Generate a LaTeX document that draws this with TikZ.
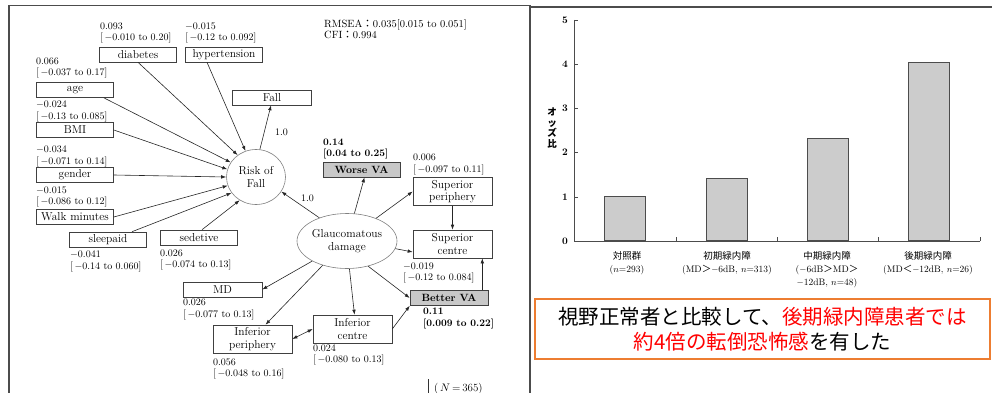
\documentclass[tikz,border=0pt]{standalone}
\usepackage{fontspec}
\newfontfamily\cjk{Noto Sans CJK JP}
\usetikzlibrary{arrows.meta,shapes.geometric,calc}
\definecolor{boxgray}{HTML}{C8C8C8}
\definecolor{bargray}{HTML}{CCCCCC}
\definecolor{frameorange}{HTML}{ED7D31}
\definecolor{jred}{HTML}{FF0000}
\tikzset{
  box/.style={draw=black!75, fill=white, line width=0.6pt, minimum width=77pt, minimum height=15pt, inner sep=0pt, font=\fontsize{11.5}{12}\selectfont},
  tbox/.style={box, minimum width=79pt, minimum height=28pt, align=center, font=\fontsize{11.5}{12.5}\selectfont},
  gbox/.style={box, fill=boxgray, font=\fontsize{10.5}{12}\selectfont\bfseries},
  lat/.style={ellipse, draw=black!50, fill=white, line width=0.6pt, inner sep=0pt, align=center, font=\fontsize{11.5}{12.5}\selectfont},
  lbl/.style={anchor=base west, inner sep=0pt, align=left, font=\fontsize{10}{11.5}\selectfont},
  blbl/.style={lbl, font=\fontsize{10}{11.5}\selectfont\bfseries},
  arr/.style={-{Latex[length=5pt,width=3.6pt]}, line width=0.6pt, draw=black!85},
  darr/.style={{Latex[length=5pt,width=3.6pt]}-{Latex[length=5pt,width=3.6pt]}, line width=0.6pt, draw=black!85},
  frame/.style={draw=black!70, line width=1.2pt},
  axis/.style={draw=black!70, line width=0.6pt},
  bar/.style={draw=black!70, fill=bargray, line width=0.7pt},
  ticklbl/.style={anchor=east, inner sep=0pt, font=\fontsize{10}{12}\selectfont\bfseries},
  catlbl/.style={anchor=north, inner sep=0pt, align=center, font=\fontsize{9.5}{13}\selectfont},
}
\begin{document}
\begin{tikzpicture}[x=1pt,y=-1pt]
\useasboundingbox (0,0) rectangle (992,393);
% frames
\draw[frame] (9,393) -- (9,5.5) -- (530,5.5) -- (530,393);
\draw[frame] (530,7) -- (992,7);

% ---------- left diagram ----------
\node[box] (diab) at (138,54.5) {diabetes};
\node[box] (hyp) at (224,54.5) {hypertension};
\node[box] (age) at (75,90) {age};
\node[box] (bmi) at (75,130) {BMI};
\node[box] (gender) at (75,175) {gender};
\node[box] (walk) at (75,217) {Walk minutes};
\node[box] (sleep) at (108,239.5) {sleepaid};
\node[box] (sed) at (199,237.5) {sedetive};
\node[box, minimum width=79pt] (fall) at (272,97.5) {Fall};
\node[lat, minimum width=59pt, minimum height=55pt] (risk) at (256,177) {Risk of\\Fall};
\node[lat, minimum width=100pt, minimum height=55pt] (glau) at (347,241) {Glaucomatous\\damage};
\node[gbox] (worse) at (361.5,169.5) {Worse VA};
\node[tbox] (supp) at (452.5,191.5) {Superior\\periphery};
\node[tbox] (supc) at (452.5,244) {Superior\\centre};
\node[gbox, minimum width=78pt] (better) at (449,298) {Better VA};
\node[box, minimum width=79pt] (md) at (222.5,289.5) {MD};
\node[tbox] (infp) at (252.5,339) {Inferior\\periphery};
\node[tbox] (infc) at (352.5,329) {Inferior\\centre};

% labels (anchored at the baseline of the second line)
\node[lbl] (diabL) at (100,41) {0.093\\{[}\,$-$0.010 to 0.20{]}};
\node[lbl] (hypL) at (185,41) {$-$0.015\\{[}\,$-$0.12 to 0.092{]}};
\node[lbl] (ageL) at (36,76) {0.066\\{[}\,$-$0.037 to 0.17{]}};
\node[lbl] (bmiL) at (36,119) {$-$0.024\\{[}\,$-$0.13 to 0.085{]}};
\node[lbl] (genderL) at (36,164) {$-$0.034\\{[}\,$-$0.071 to 0.14{]}};
\node[lbl] (walkL) at (36,204.5) {$-$0.015\\{[}\,$-$0.086 to 0.12{]}};
\node[lbl] (sleepL) at (70,269) {$-$0.041\\{[}\,$-$0.14 to 0.060{]}};
\node[lbl] (sedL) at (160,267.5) {0.026\\{[}\,$-$0.074 to 0.13{]}};
\node[blbl] (worseL) at (323,156.5) {0.14\\{[}0.04 to 0.25{]}};
\node[lbl] (suppL) at (413,172) {0.006\\{[}\,$-$0.097 to 0.11{]}};
\node[lbl] (supcL) at (403,280.5) {$-$0.019\\{[}\,$-$0.12 to 0.084{]}};
\node[blbl] (betterL) at (423,326) {0.11\\{[}0.009 to 0.22{]}};
\node[lbl] (mdL) at (183,317) {0.026\\{[}\,$-$0.077 to 0.13{]}};
\node[lbl] (infpL) at (213,376.5) {0.056\\{[}\,$-$0.048 to 0.16{]}};
\node[lbl] (infcL) at (313,362.5) {0.024\\{[}\,$-$0.080 to 0.13{]}};
\node[lbl, font=\fontsize{10.5}{10}\selectfont] (fit) at (324,39) {RMSEA{\cjk ：}0.035[0.015 to 0.051]\\CFI{\cjk ：}0.994};
\node[lbl] (load1) at (275,135.5) {1.0};
\node[lbl] (load2) at (301,201.5) {1.0};
\draw[draw=black!80, line width=0.6pt] (428,379) -- (428,393);
\node[lbl, font=\fontsize{11}{12}\selectfont] (nlbl) at (434,391) {(\,$N$\,=\,365)};

% connectors into Risk of Fall
\draw[arr] (diab.south) -- (risk.130);
\draw[arr] ($(hyp.south)+(-17,0)$) -- (risk.112);
\draw[arr] ($(age.south east)+(-10,0)$) -- (risk.150);
\draw[arr] (bmi.east) -- (risk.165);
\draw[arr] (gender.east) -- (risk.180);
\draw[arr] (walk.east) -- (risk.197);
\draw[arr] ($(sleep.north)+(24,0)$) -- (risk.213);
\draw[arr] ($(sed.north)+(3,0)$) -- (risk.235);
\draw[arr] (risk.82) -- ($(fall.south)+(-1,0)$);
\draw[arr] (glau.140) -- (risk.-30);
% from Glaucomatous damage
\draw[arr] (glau.75) -- ($(worse.south)+(3,0)$);
\draw[arr] (glau.38) -- (supp.west);
\draw[arr] (glau.-9) -- ($(supc.west)+(0,8)$);
\draw[arr] (glau.-50) -- (better.west);
\draw[arr] (glau.-85) -- ($(infc.north)+(2,0)$);
\draw[arr] (glau.-135) -- ($(infp.north)+(13,0)$);
\draw[arr] (glau.-150) -- (md.east);
\draw[arr] (supp.south) -- (supc.north);
\draw[arr] ($(better.north east)+(-6,0)$) -- ($(supc.south east)+(-10,0)$);
\draw[arr] (infc.east) -- (better.south west);
\draw[darr] (infp.east) -- (infc.west);

% ---------- right bar chart ----------
\draw[axis] (574,20) -- (574,241) -- (980,241);
\foreach \v [count=\k from 0] in {0,1,2,3,4,5} {
  \draw[axis] (574,241-44.2*\v) -- (578,241-44.2*\v);
  \node[ticklbl] (tick\k) at (568,241-44.2*\v) {\v};
}
\foreach \xx in {676,777,878,980} { \draw[axis] (\xx,241) -- (\xx,237); }
\node[bar, minimum width=41pt, minimum height=44.2pt, anchor=south, inner sep=0] (b1) at (625,241) {};
\node[bar, minimum width=41pt, minimum height=62.8pt, anchor=south, inner sep=0] (b2) at (727,241) {};
\node[bar, minimum width=41pt, minimum height=102.5pt, anchor=south, inner sep=0] (b3) at (828,241) {};
\node[bar, minimum width=41pt, minimum height=178.6pt, anchor=south, inner sep=0] (b4) at (929,241) {};
\node[inner sep=0, align=center, font=\cjk\fontsize{9.5}{10.5}\selectfont\bfseries] (ylab) at (552,128) {オ\\ッ\\ズ\\比};
\node[catlbl] (c1) at (627,251) {{\cjk 対照群}\\($n$=293)};
\node[catlbl] (c2) at (727,251) {{\cjk 初期緑内障}\\(MD{\cjk ＞}$-$6dB, $n$=313)};
\node[catlbl] (c3) at (827,251) {{\cjk 中期緑内障}\\($-$6dB{\cjk ＞}MD{\cjk ＞}\\$-$12dB, $n$=48)};
\node[catlbl] (c4) at (928,251) {{\cjk 後期緑内障}\\(MD{\cjk ＜}$-$12dB, $n$=26)};

% message box
\node[draw=frameorange, line width=1.5pt, minimum width=455pt, minimum height=60pt, inner sep=0pt, align=center,
      font=\cjk\fontsize{20.5}{25}\selectfont] (msg) at (762.5,329)
  {視野正常者と比較して、\textcolor{jred}{後期緑内障患者では}\\\textcolor{jred}{約4倍の転倒恐怖感}を有した};
\end{tikzpicture}
\end{document}
